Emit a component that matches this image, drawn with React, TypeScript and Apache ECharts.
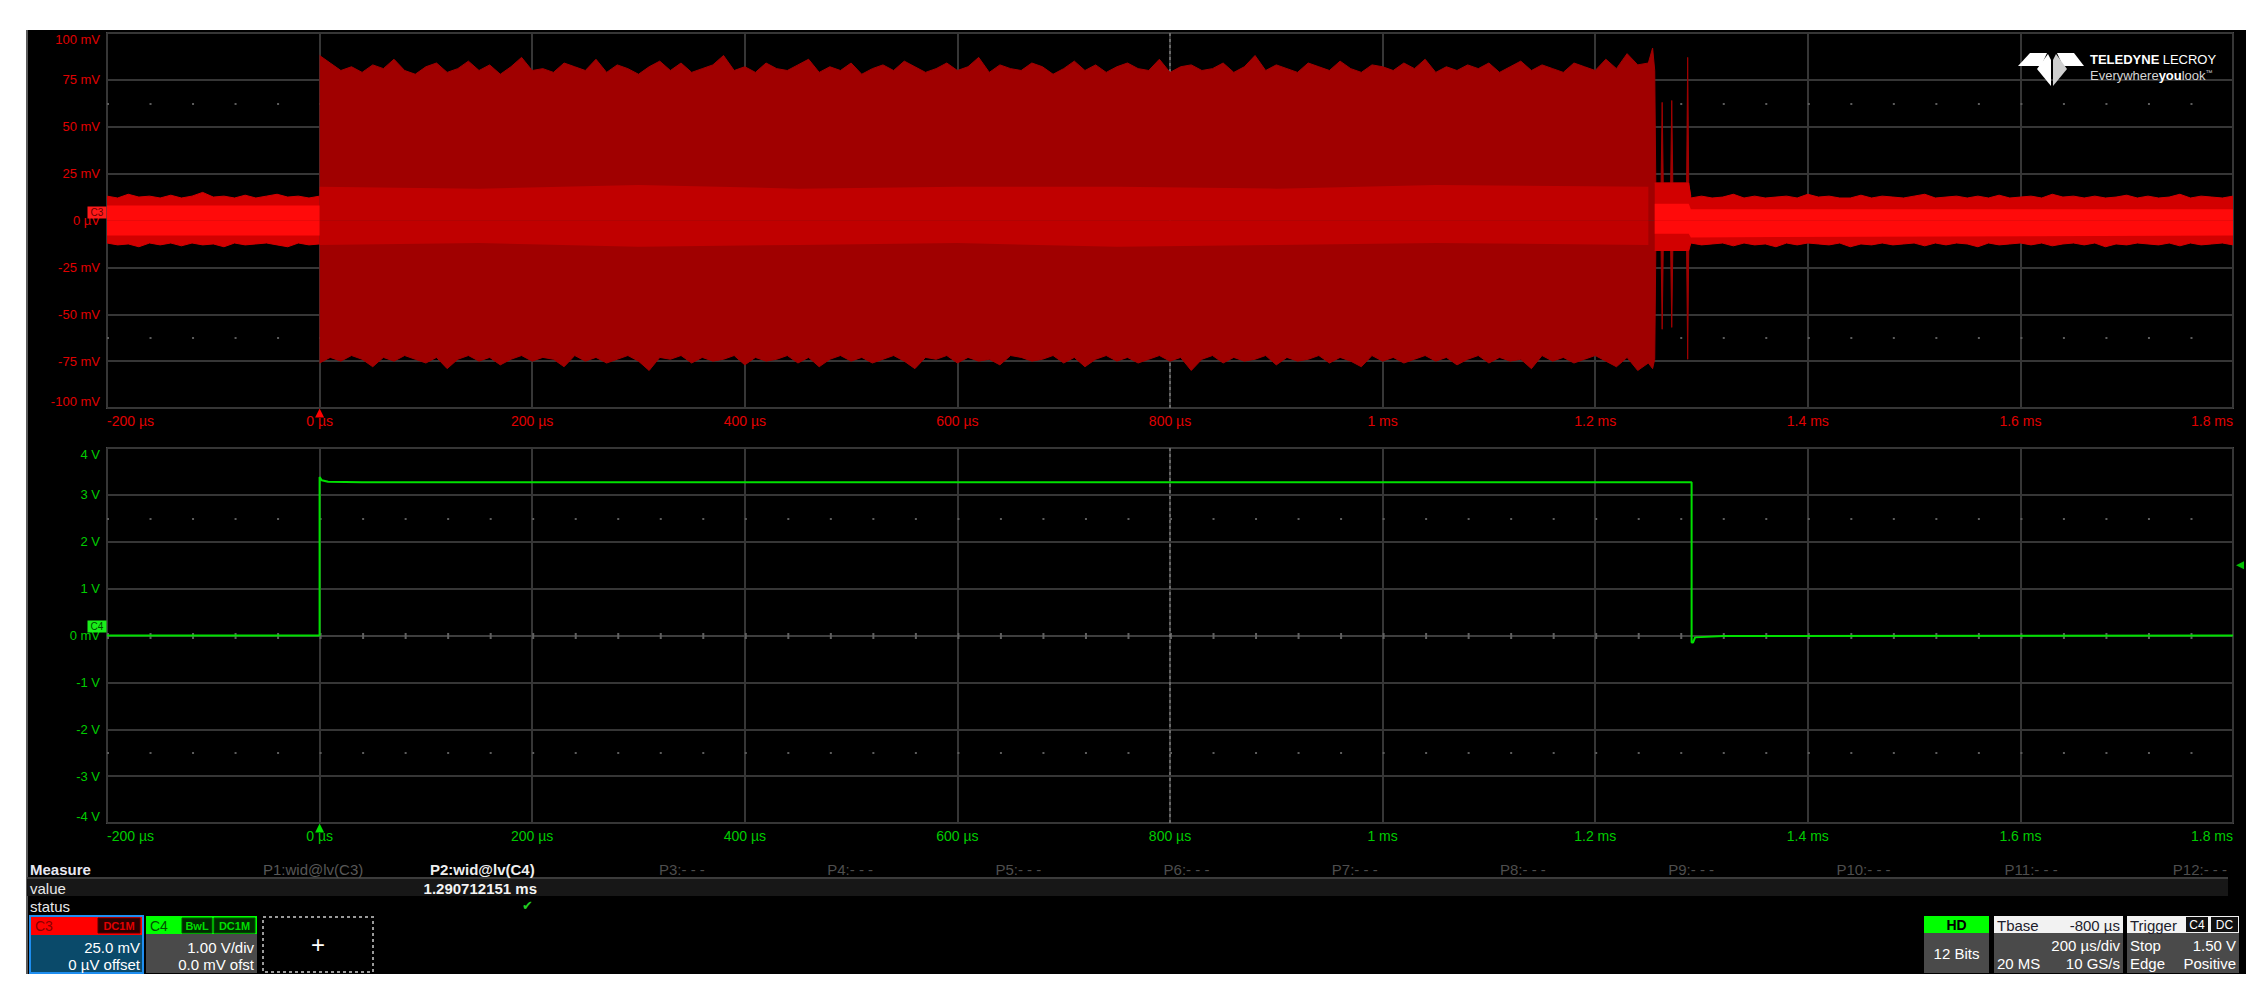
import React, { useEffect, useRef } from "react";
import * as echarts from "echarts";

// ---------------- Data ----------------
// Time axis (µs)
const timeMin = -200;
const timeMax = 1800;
const timeDiv = 200;
// C3 vertical scale (mV) and C4 vertical scale (V)
const c3Min = -100, c3Max = 100, c3Div = 25;
const c4Min = -4, c4Max = 4, c4Div = 1;

// C3 noise envelope before the burst, sampled every 10 µs from -200 µs (mV)
const preStart = -200, preStep = 10;
const preUpper = [13, 12, 14, 12.5, 13, 12, 13.5, 12, 13, 15, 12.5, 13, 12, 13.5, 12, 13, 14, 12.5, 13, 12, 13];
const preLower = [-12, -13, -12.5, -14, -12, -13, -12, -13.5, -12, -13, -12.5, -14, -12, -13, -12.5, -12, -13, -14, -12, -13, -12.5];
const preCoreT = [-200, 0];
const preCoreUpper = [8, 8];
const preCoreLower = [-8, -8];

// C3 burst envelope, sampled every 10 µs from 0 µs (mV)
const burstStart = 0, burstStep = 10;
const burstUpper = [
  88, 84, 80, 82, 79, 83, 81, 86, 80, 78,
  82, 84, 79, 81, 85, 80, 83, 78, 82, 87,
  80, 81, 79, 84, 82, 80, 86, 79, 83, 81,
  78, 82, 85, 80, 84, 79, 81, 83, 88, 80,
  82, 79, 84, 81, 80, 83, 86, 79, 82, 80,
  84, 78, 81, 83, 80, 85, 82, 79, 81, 84,
  80, 82, 87, 79, 83, 81, 80, 84, 82, 78,
  81, 85, 80, 83, 79, 82, 84, 81, 80, 86,
  79, 82, 83, 80, 81, 84, 79, 82, 88, 80,
  83, 81, 79, 84, 82, 80, 85, 81, 79, 83,
  82, 80, 84, 81, 86, 79, 82, 80, 83, 81,
  84, 79, 82, 85, 80, 83, 81, 79, 84, 82,
  80, 86, 81, 89, 83, 84,
];
const burstLower = [
  -76, -73, -75, -72, -74, -78, -73, -75, -72, -74,
  -76, -73, -79, -74, -72, -75, -73, -77, -74, -72,
  -75, -73, -74, -78, -72, -75, -73, -76, -74, -72,
  -75, -80, -73, -74, -72, -76, -73, -75, -74, -72,
  -77, -73, -75, -74, -72, -76, -73, -78, -74, -72,
  -75, -73, -76, -74, -72, -75, -79, -73, -74, -72,
  -76, -73, -75, -74, -77, -72, -73, -75, -74, -72,
  -76, -73, -78, -74, -72, -75, -73, -76, -74, -72,
  -75, -73, -80, -74, -72, -76, -73, -75, -74, -72,
  -77, -73, -75, -74, -72, -76, -73, -75, -78, -72,
  -75, -73, -76, -74, -72, -75, -73, -77, -74, -72,
  -76, -73, -75, -74, -79, -72, -75, -73, -76, -74,
  -72, -75, -78, -73, -80, -76,
];
// brighter middle band of the burst (mV)
const burstBandT = [0, 150, 300, 450, 600, 750, 900, 1050, 1250];
const burstBandUpper = [18, 17, 19, 17, 18, 18, 17, 19, 18];
const burstBandLower = [-13, -12, -14, -13, -12, -14, -13, -12, -13];

// end of burst: last bursts / spikes (µs, mV)
const tailT = [1254, 1256, 1257, 1262, 1263, 1264, 1271, 1272, 1273, 1286, 1287, 1288, 1290];
const tailUpper = [92, 80, 20, 20, 63, 20, 20, 64, 20, 20, 87, 19, 13];
const tailLower = [-79, -74, -16, -16, -58, -16, -16, -57, -16, -16, -74, -14, -12];
const tailBandT = [1256, 1288];
const tailBandUpper = [20, 20];
const tailBandLower = [-16, -16];

// noise after the burst, sampled every 10 µs from 1290 µs (mV)
const postStart = 1290, postStep = 10;
const postUpper = [
  12, 13, 12, 12.5, 14, 12, 13, 12, 12.5, 13,
  12, 14, 12.5, 13, 12, 12, 13.5, 12, 13, 12.5,
  12, 13, 14, 12, 12.5, 13, 12, 13, 12, 13.5,
  12, 12.5, 13, 12, 14, 12.5, 13, 12, 13, 12,
  12.5, 13.5, 12, 13, 12, 12.5, 14, 12, 13, 12.5,
  12, 13,
];
const postLower = [
  -12, -13, -12.5, -12, -13.5, -12, -13, -12.5, -14, -12,
  -13, -12, -12.5, -13, -12, -14, -12.5, -13, -12, -13,
  -12.5, -12, -13.5, -12, -13, -12, -12.5, -14, -12, -13,
  -12.5, -12, -13, -12, -13.5, -12.5, -12, -13, -12, -14,
  -12.5, -13, -12, -12.5, -13, -12, -13.5, -12, -13, -12.5,
  -12, -13,
];
const postCoreT = [1256, 1288, 1290, 1800];
const postCoreUpper = [9, 9, 6, 6];
const postCoreLower = [-7, -7, -9, -8];

// C4 digital enable signal (µs, V)
const greenT = [-200, 0, 0, 2, 8, 40, 1290.7, 1290.7, 1292, 1294, 1320, 1800];
const greenV = [0, 0, 3.38, 3.31, 3.28, 3.27, 3.27, -0.15, -0.15, -0.04, -0.01, 0];

// Measurement / status panel text
const measureCols = ["P3", "P4", "P5", "P6", "P7", "P8", "P9", "P10", "P11", "P12"];
const measureValue = "1.290712151 ms";

// ---------------- Helpers ----------------
const FONT = '"Liberation Sans", Arial, sans-serif';
const pairs = (start: number, step: number, vals: number[]) => vals.map((v, i) => [start + i * step, v]);
const zip = (ts: number[], vs: number[]) => ts.map((t, i) => [t, vs[i]]);

const fmtTime = (v: number) => (Math.abs(v) < 1000 ? `${v} µs` : `${v / 1000} ms`);

function envSeries(data: number[][], color: string, z: number, extra: any = {}) {
  return {
    type: "line",
    xAxisIndex: 0,
    yAxisIndex: 0,
    data,
    symbol: "none",
    showSymbol: false,
    silent: true,
    z,
    lineStyle: { color, width: 1 },
    areaStyle: { color, opacity: 1, origin: 0 },
    ...extra,
  };
}

function T(x: number, y: number, text: string, fill: string, o: any = {}) {
  return {
    type: "text",
    x,
    y,
    z: 100,
    silent: true,
    scaleX: o.sx || 1,
    style: {
      text,
      fill,
      font: `${o.weight || "normal"} ${o.size || 15}px ${o.family || FONT}`,
      textAlign: o.align || "left",
      textVerticalAlign: "middle",
    },
  };
}
function R(x: number, y: number, w: number, h: number, fill: string, o: any = {}) {
  return {
    type: "rect",
    z: o.z ?? 90,
    silent: true,
    shape: { x, y, width: w, height: h },
    style: { fill, stroke: o.stroke || null, lineWidth: o.lw || 0, lineDash: o.dash || null },
  };
}

export default function App() {
  const ref = useRef<HTMLDivElement>(null);

  useEffect(() => {
    if (!ref.current) return;
    const chart = echarts.init(ref.current, null, { renderer: "svg" });

    const outerUp = [...pairs(burstStart, burstStep, burstUpper), ...zip(tailT, tailUpper)];
    const outerLo = [...pairs(burstStart, burstStep, burstLower), ...zip(tailT, tailLower)];
    const preUp = pairs(preStart, preStep, preUpper);
    const preLo = pairs(preStart, preStep, preLower);
    const bandUp = zip(burstBandT, burstBandUpper);
    const bandLo = zip(burstBandT, burstBandLower);
    const postUp = [...zip(tailBandT, tailBandUpper), ...pairs(postStart, postStep, postUpper)];
    const postLo = [...zip(tailBandT, tailBandLower), ...pairs(postStart, postStep, postLower)];

    const gridLine = { show: true, lineStyle: { color: "#363636", width: 2 } };
    const dotRow = { type: [2, 40.52] as any, color: "#5c5c5c", width: 2 };
    const centerCol = { type: [3, 3] as any, color: "#7a7a7a", width: 1.5 };

    const xAxisBase = (i: number, color: string) => ({
      type: "value",
      gridIndex: i,
      min: timeMin,
      max: timeMax,
      interval: timeDiv,
      axisLine: { show: false },
      axisTick: { show: false },
      splitLine: gridLine,
      axisLabel: {
        color,
        fontSize: 14,
        fontFamily: FONT,
        margin: 6,
        formatter: fmtTime,
        alignMinLabel: "left",
        alignMaxLabel: "right",
      },
    });

    const red = "#e00000";
    const green = "#00cc00";

    const option: any = {
      animation: false,
      backgroundColor: "#ffffff",
      textStyle: { fontFamily: FONT },
      grid: [
        { left: 107, top: 33, width: 2126, height: 375, show: true, borderColor: "#4a4a4a", borderWidth: 2, backgroundColor: "transparent" },
        { left: 107, top: 448, width: 2126, height: 375, show: true, borderColor: "#4a4a4a", borderWidth: 2, backgroundColor: "transparent" },
      ],
      xAxis: [xAxisBase(0, red), xAxisBase(1, green)],
      yAxis: [
        {
          type: "value",
          gridIndex: 0,
          min: c3Min,
          max: c3Max,
          interval: c3Div,
          axisLine: { show: false },
          axisTick: { show: false },
          splitLine: gridLine,
          axisLabel: {
            color: red,
            fontSize: 13,
            fontFamily: FONT,
            margin: 7,
            formatter: (v: number) => (v === 0 ? "0 µV" : `${v} mV`),
            verticalAlignMaxLabel: "top",
            verticalAlignMinLabel: "bottom",
          },
        },
        {
          type: "value",
          gridIndex: 1,
          min: c4Min,
          max: c4Max,
          interval: c4Div,
          axisLine: { show: false },
          axisTick: { show: false },
          splitLine: gridLine,
          axisLabel: {
            color: green,
            fontSize: 13,
            fontFamily: FONT,
            margin: 7,
            formatter: (v: number) => (v === 0 ? "0 mV" : `${v} V`),
            verticalAlignMaxLabel: "top",
            verticalAlignMinLabel: "bottom",
          },
        },
      ],
      series: [
        envSeries(outerUp, "#a00000", 2, {
          markLine: {
            silent: true,
            z: 1,
            symbol: ["none", "none"],
            label: { show: false },
            data: [
              { yAxis: 62.5, lineStyle: dotRow },
              { yAxis: -62.5, lineStyle: dotRow },
              { xAxis: 800, lineStyle: centerCol },
            ],
          },
          markPoint: {
            silent: true,
            z: 10,
            data: [
              {
                coord: [timeMin, 0],
                symbol: "rect",
                symbolSize: [19, 12],
                symbolOffset: [-10, -8],
                itemStyle: { color: "#ff1a1a" },
                label: { show: true, formatter: "C3", color: "#6a0000", fontSize: 10, position: "inside" },
              },
              {
                coord: [0, c3Min],
                symbol: "triangle",
                symbolSize: [9, 9],
                symbolOffset: [0, 5],
                itemStyle: { color: "#ff0000" },
                label: { show: false },
              },
            ],
          },
        }),
        envSeries(outerLo, "#a00000", 2),
        envSeries(preUp, "#d20000", 3),
        envSeries(preLo, "#d20000", 3),
        envSeries(bandUp, "#c00000", 3, { lineStyle: { width: 0 } }),
        envSeries(bandLo, "#c00000", 3, { lineStyle: { width: 0 } }),
        envSeries(postUp, "#d20000", 3),
        envSeries(postLo, "#d20000", 3),
        envSeries(zip(preCoreT, preCoreUpper), "#ff0a0a", 4, { lineStyle: { width: 0 } }),
        envSeries(zip(preCoreT, preCoreLower), "#ff0a0a", 4, { lineStyle: { width: 0 } }),
        envSeries(zip(postCoreT, postCoreUpper), "#ff0a0a", 4, { lineStyle: { width: 0 } }),
        envSeries(zip(postCoreT, postCoreLower), "#ff0a0a", 4, { lineStyle: { width: 0 } }),
        {
          type: "line",
          xAxisIndex: 1,
          yAxisIndex: 1,
          data: zip(greenT, greenV),
          symbol: "none",
          silent: true,
          z: 3,
          lineStyle: { color: "#00e000", width: 2 },
          markLine: {
            silent: true,
            z: 1,
            symbol: ["none", "none"],
            label: { show: false },
            data: [
              { yAxis: 2.5, lineStyle: dotRow },
              { yAxis: -2.5, lineStyle: dotRow },
              { yAxis: 0, lineStyle: { type: "solid", color: "#3e3e3e", width: 2 } },
              { yAxis: 0, lineStyle: { type: [2, 40.52], color: "#606060", width: 6 } },
              { xAxis: 800, lineStyle: centerCol },
            ],
          },
          markPoint: {
            silent: true,
            z: 10,
            data: [
              {
                coord: [timeMin, 0],
                symbol: "rect",
                symbolSize: [19, 12],
                symbolOffset: [-10, -9],
                itemStyle: { color: "#1aee1a" },
                label: { show: true, formatter: "C4", color: "#004a00", fontSize: 10, position: "inside" },
              },
              {
                coord: [0, c4Min],
                symbol: "triangle",
                symbolSize: [9, 9],
                symbolOffset: [0, 5],
                itemStyle: { color: "#00e000" },
                label: { show: false },
              },
              {
                coord: [timeMax, 1.5],
                symbol: "triangle",
                symbolSize: [8, 8],
                symbolRotate: 90,
                symbolOffset: [7, 0],
                itemStyle: { color: "#00c000" },
                label: { show: false },
              },
            ],
          },
        },
      ],
      graphic: {
        elements: [
          // instrument screen background
          { type: "rect", z: -100, silent: true, shape: { x: 26, y: 30, width: 2220, height: 944 }, style: { fill: "#000000" } },
          { type: "rect", z: -99, silent: true, shape: { x: 26, y: 30, width: 2, height: 944 }, style: { fill: "#5a5a5a" } },

          // logo
          { type: "polygon", z: 100, silent: true, shape: { points: [[2030, 53], [2047, 53], [2041, 66], [2018, 66]] }, style: { fill: "#ffffff" } },
          { type: "polygon", z: 100, silent: true, shape: { points: [[2057, 53], [2074, 53], [2084, 66], [2063, 66]] }, style: { fill: "#ffffff" } },
          { type: "polygon", z: 100, silent: true, shape: { points: [[2048, 54], [2051, 60], [2051, 86], [2037, 69]] }, style: { fill: "#ffffff" } },
          { type: "polygon", z: 100, silent: true, shape: { points: [[2056, 54], [2053, 60], [2053, 86], [2067, 69]] }, style: { fill: "#cfcfcf" } },
          {
            type: "text",
            z: 100,
            silent: true,
            x: 2090,
            y: 59,
            style: {
              text: "{a|TELEDYNE} {b|LECROY}",
              textVerticalAlign: "middle",
              rich: {
                a: { fill: "#ffffff", fontWeight: "bold", fontSize: 13, fontFamily: FONT },
                b: { fill: "#ffffff", fontSize: 13, fontFamily: FONT },
              },
            },
          },
          {
            type: "text",
            z: 100,
            silent: true,
            x: 2090,
            y: 75,
            style: {
              text: "{a|Everywhere}{b|you}{a|look}{c|™}",
              textVerticalAlign: "middle",
              rich: {
                a: { fill: "#d6d6d6", fontSize: 13, fontFamily: FONT },
                b: { fill: "#ffffff", fontWeight: "bold", fontSize: 13, fontFamily: FONT },
                c: { fill: "#cccccc", fontSize: 7, fontFamily: FONT, verticalAlign: "top" },
              },
            },
          },

          // measurement table
          T(30, 869, "Measure", "#e8e8f2", { weight: "bold" }),
          T(263, 869, "P1:wid@lv(C3)", "#585858"),
          T(430, 869, "P2:wid@lv(C4)", "#eeeeee", { weight: "bold" }),
          ...measureCols.map((p, k) => T(659 + 168.2 * k, 869, `${p}:- - -`, "#4e4e4e")),
          R(27, 877, 2201, 2, "#3c3c3c"),
          R(27, 879, 2201, 17, "#171717"),
          T(30, 888, "value", "#e8e8e8"),
          T(537, 888, measureValue, "#f4f4f4", { weight: "bold", align: "right" }),
          T(30, 906, "status", "#e8e8e8"),
          T(522, 905, "✔", "#22cc22", { size: 13, family: '"DejaVu Sans", sans-serif' }),

          // C3 channel box
          R(30, 916, 113, 57, "#0a4a6a", { stroke: "#1e8ef0", lw: 2 }),
          R(31, 917, 111, 18, "#ff0000"),
          T(35, 926, "C3", "#8a0000", { size: 14 }),
          R(98, 918, 42, 15, "#2a0000", { stroke: "#550000", lw: 1, z: 95 }),
          T(119, 926, "DC1M", "#e00000", { size: 11, weight: "bold", align: "center" }),
          T(140, 947, "25.0 mV", "#ffffff", { align: "right" }),
          T(140, 964, "0 µV offset", "#ffffff", { align: "right" }),

          // C4 channel box
          R(146, 916, 111, 57, "#4a4a4a"),
          R(146, 916, 111, 18, "#00ff00"),
          T(150, 926, "C4", "#005000", { size: 14 }),
          R(182, 918, 30, 15, "#002a00", { stroke: "#005500", lw: 1, z: 95 }),
          T(197, 926, "BwL", "#00dd00", { size: 11, weight: "bold", align: "center" }),
          R(214, 918, 41, 15, "#002a00", { stroke: "#005500", lw: 1, z: 95 }),
          T(234.5, 926, "DC1M", "#00dd00", { size: 11, weight: "bold", align: "center" }),
          T(254, 947, "1.00 V/div", "#ffffff", { align: "right" }),
          T(254, 964, "0.0 mV ofst", "#ffffff", { align: "right" }),

          // add-channel box
          R(263, 917, 110, 55, "#000000", { stroke: "#9a9a9a", lw: 2, dash: [3, 3] }),
          T(318, 944, "+", "#ffffff", { size: 24, align: "center" }),

          // HD box
          R(1924, 916, 65, 57, "#4a4a4a"),
          R(1924, 916, 65, 17, "#00ff00"),
          T(1956.5, 925, "HD", "#000000", { size: 14, weight: "bold", align: "center" }),
          T(1956.5, 953, "12 Bits", "#ffffff", { align: "center" }),

          // timebase box
          R(1994, 916, 129, 57, "#4a4a4a"),
          R(1994, 916, 129, 17, "#f2f2f2"),
          T(1997, 925, "Tbase", "#1c1c2c"),
          T(2120, 925, "-800 µs", "#1c1c2c", { align: "right" }),
          T(2120, 945, "200 µs/div", "#ffffff", { align: "right" }),
          T(1997, 963, "20 MS", "#ffffff"),
          T(2120, 963, "10 GS/s", "#ffffff", { align: "right" }),

          // trigger box
          R(2127, 916, 112, 57, "#4a4a4a"),
          R(2127, 916, 112, 17, "#f2f2f2"),
          T(2130, 925, "Trigger", "#1c1c2c"),
          R(2186, 917, 22, 15, "#111111", { z: 95 }),
          T(2197, 925, "C4", "#ffffff", { size: 12, align: "center" }),
          R(2211, 917, 27, 15, "#111111", { z: 95 }),
          T(2224.5, 925, "DC", "#ffffff", { size: 12, align: "center" }),
          T(2130, 945, "Stop", "#ffffff"),
          T(2236, 945, "1.50 V", "#ffffff", { align: "right" }),
          T(2130, 963, "Edge", "#ffffff"),
          T(2236, 963, "Positive", "#ffffff", { align: "right" }),
        ],
      },
    };

    chart.setOption(option);
    return () => chart.dispose();
  }, []);

  return (
    <div
      ref={ref}
      style={{ position: "absolute", left: 0, top: 0, width: 2262, height: 1004 }}
    />
  );
}
